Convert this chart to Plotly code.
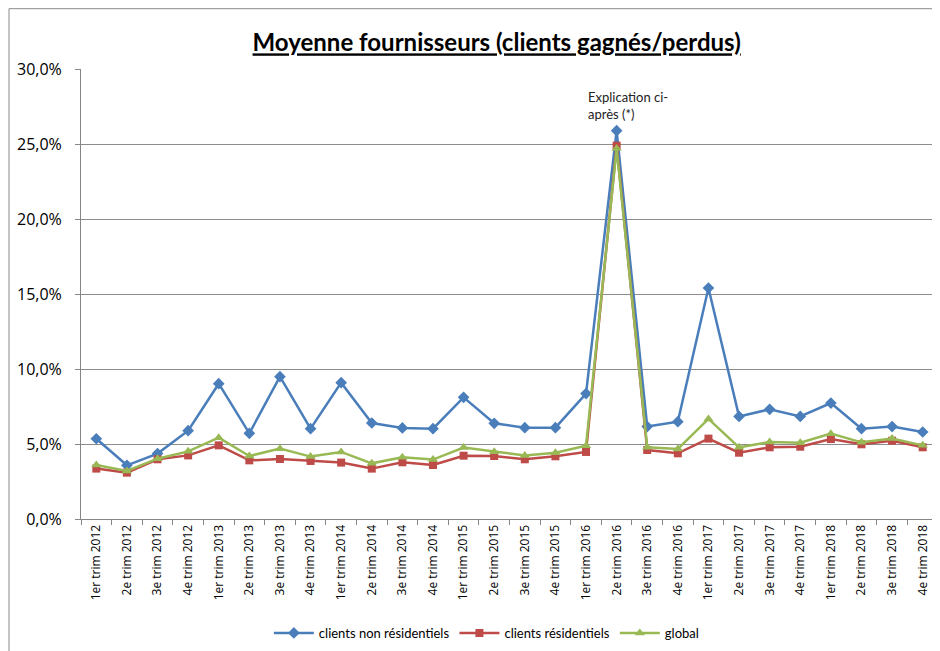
import plotly.graph_objects as go

trimestres = ['1er trim', '2e trim', '3e trim', '4e trim']
annees = [2012, 2013, 2014, 2015, 2016, 2017, 2018]
categories = [f'{t} {a}' for a in annees for t in trimestres]

non_residentiels = [5.35, 3.58, 4.36, 5.89, 9.02, 5.71, 9.49, 6.02, 9.09, 6.40, 6.07, 6.02, 8.11, 6.38,
                    6.09, 6.09, 8.36, 25.89, 6.16, 6.49, 15.40, 6.84, 7.31, 6.84, 7.73, 6.02, 6.16, 5.80]
residentiels = [3.36, 3.09, 3.98, 4.24, 4.91, 3.91, 4.00, 3.87, 3.76, 3.36, 3.78, 3.60, 4.22, 4.20,
                3.98, 4.18, 4.47, 24.89, 4.60, 4.38, 5.36, 4.42, 4.78, 4.82, 5.33, 4.98, 5.22, 4.78]
global_ = [3.60, 3.20, 4.02, 4.51, 5.42, 4.20, 4.69, 4.16, 4.47, 3.71, 4.11, 3.96, 4.76, 4.49,
           4.24, 4.42, 4.89, 24.70, 4.78, 4.67, 6.67, 4.78, 5.13, 5.09, 5.69, 5.11, 5.36, 4.91]

font = 'Lato, Open Sans, sans-serif'

fig = go.Figure()
fig.add_trace(go.Scatter(x=categories, y=[v / 100 for v in non_residentiels], name='clients non résidentiels',
                         mode='lines+markers', line=dict(color='#4A7EBB', width=2.5),
                         marker=dict(symbol='diamond', size=9, color='#4A7EBB')))
fig.add_trace(go.Scatter(x=categories, y=[v / 100 for v in residentiels], name='clients résidentiels',
                         mode='lines+markers', line=dict(color='#BE4B48', width=2.5),
                         marker=dict(symbol='square', size=8, color='#BE4B48')))
fig.add_trace(go.Scatter(x=categories, y=[v / 100 for v in global_], name='global',
                         mode='lines+markers', line=dict(color='#98B954', width=2.5),
                         marker=dict(symbol='triangle-up', size=9, color='#98B954')))

fig.add_annotation(x=categories[17], y=non_residentiels[17] / 100, text='Explication ci-<br>après (*)',
                   showarrow=False, xanchor='left', yanchor='bottom', align='left',
                   xshift=-31, yshift=7, font=dict(family=font, size=13, color='#222'))

# cadre du graphique
fig.add_shape(type='rect', xref='paper', yref='paper', x0=-0.084, y0=-0.33, x1=1.01, y1=1.134,
              line=dict(color='#8a8a8a', width=1), layer='below')

# la page ajoute une marge de 8 px : la figure est réduite d'autant
fig.update_layout(
    width=932, height=643,
    margin=dict(l=73, r=2, t=61, b=132),
    paper_bgcolor='white', plot_bgcolor='white',
    separators=', ',
    title=dict(text='<b><u>Moyenne fournisseurs (clients gagnés/perdus)</u></b>',
               x=0.485, xref='paper', xanchor='center', y=0.9456, yanchor='middle',
               font=dict(family=font, size=24, color='black')),
    font=dict(family=font, color='black'),
    showlegend=True,
    legend=dict(orientation='h', x=0.473, xanchor='center', y=-0.22, yanchor='top',
                font=dict(size=13), itemwidth=40),
    xaxis=dict(type='category', range=[-0.5, len(categories) - 0.5], tickangle=-90,
               tickfont=dict(family='Open Sans', size=12),
               showgrid=False, automargin=False,
               showline=True, linecolor='#868686', ticks='outside', tickson='boundaries',
               ticklen=5, tickcolor='#868686'),
    yaxis=dict(range=[0, 0.30], dtick=0.05, tickformat='.1%', tickfont=dict(family='Open Sans', size=16),
               showgrid=True, gridcolor='#8c8c8c', gridwidth=1, showline=True, automargin=False,
               linecolor='#868686', ticks='outside', ticklen=5, tickcolor='#868686', zeroline=False,
               ticklabelstandoff=10),
)

fig.write_html('out.html')
